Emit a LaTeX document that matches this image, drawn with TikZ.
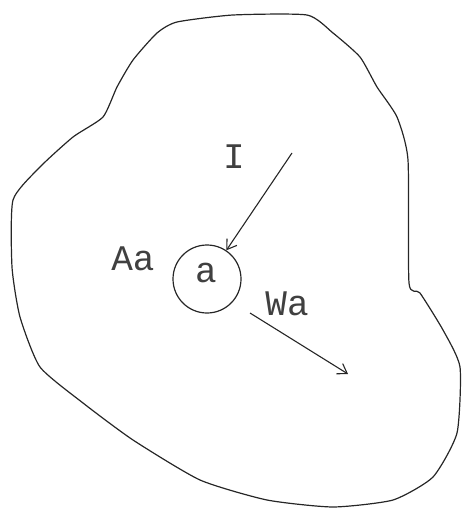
\documentclass[tikz,border=0pt]{standalone}
\usepackage{fontspec}
\setmonofont{Liberation Mono}
\usetikzlibrary{arrows.meta}

\begin{document}
\begin{tikzpicture}[
  x=1pt, y=-1pt,
  outline/.style={draw=black!85, line width=1.2pt},
  lbl/.style={font=\ttfamily\fontsize{36}{38}\selectfont, text=black!75, inner sep=0pt},
  arr/.style={-{Straight Barb[length=9pt, width=12pt]}, draw=black!85, line width=1.1pt}
]
  \useasboundingbox (0,0) rectangle (462,511);
  % region boundary
  \draw[outline] plot[smooth cycle, tension=0.35] coordinates {
    (177,22) (233,15) (307,15) (333,33) (360,57) (377,87) (397,117)
    (408,160) (409,283) (420,293) (443,330) (460,367) (457,433)
    (433,477) (393,500) (333,507) (267,500) (200,480) (133,440)
    (83,403) (40,367) (20,317) (12,267) (13,200) (40,167) (73,137)
    (103,117) (117,87) (133,60) (157,33)};
  \node[outline, circle, minimum size=68pt, inner sep=0pt] (a) at (207,279) {};
  \node[lbl] (alab) at (206,273) {a};
  \node[lbl] (aa) at (133,259) {Aa};
  \node[lbl] (ilab) at (234,157) {I};
  \node[lbl] (wa) at (287,304) {Wa};
  \coordinate (istart) at (292,153);
  \coordinate (wstart) at (250,313);
  \coordinate (wend) at (348,374);
  \draw[arr] (istart) -- (a);
  \draw[arr] (wstart) -- (wend);
\end{tikzpicture}
\end{document}
